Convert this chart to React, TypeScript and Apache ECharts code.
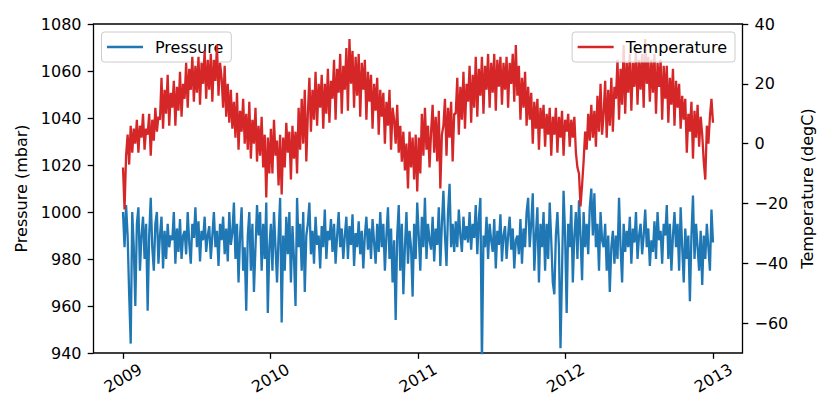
import React, { useEffect, useRef } from "react";
import * as echarts from "echarts";

// Sampled readings (8 per month), 2009-01-01 .. 2012-12-31
const PRESSURE_2009 = [
  1000, 985, 1003, 990, 965, 944, 1000, 985,
  960, 995, 1002, 975, 990, 998, 980, 995,
  958, 990, 1006, 985, 975, 995, 1000, 978,
  990, 998, 976, 992, 980, 995, 985, 990,
  988, 1000, 978, 993, 983, 997, 980, 990,
  992, 982, 1000, 987, 978, 995, 989, 1002,
  985, 996, 979, 992, 988, 998, 983, 990,
  994, 980, 990, 1000, 985, 992, 977, 995,
  988, 998, 982, 993, 979, 1000, 986, 991,
  1004, 980, 995, 970, 990, 1002, 975, 985,
  958, 990, 1000, 975, 995, 966, 985, 1003,
  990, 1000, 975, 995, 980, 1004, 957, 985,
];
const PRESSURE_2010 = [
  995, 975, 1000, 985, 970, 990, 1006, 953,
  990, 975, 998, 982, 1000, 970, 994, 980,
  960, 1006, 985, 995, 975, 1000, 966, 990,
  995, 1004, 982, 992, 978, 998, 986, 990,
  976, 994, 985, 1001, 980, 992, 988, 997,
  983, 995, 978, 990, 1000, 985, 993, 980,
  990, 998, 980, 994, 986, 999, 977, 991,
  985, 996, 982, 992, 976, 990, 998, 984,
  993, 980, 997, 987, 978, 995, 983, 1000,
  985, 995, 975, 990, 1002, 980, 993, 970,
  988, 954, 990, 1003, 975, 995, 965, 985,
  1000, 978, 992, 985, 964, 995, 980, 1004,
];
const PRESSURE_2011 = [
  990, 975, 998, 985, 1006, 980, 995, 988,
  984, 998, 979, 993, 986, 1002, 977, 995,
  1009, 990, 977, 1000, 1012, 985, 995, 983,
  996, 985, 1001, 990, 983, 998, 988, 994,
  987, 1000, 984, 995, 989, 1003, 982, 997,
  1006, 935, 990, 985, 998, 980, 995, 988,
  983, 997, 976, 992, 986, 999, 979, 990,
  994, 980, 990, 998, 984, 993, 976, 988,
  990, 982, 997, 978, 993, 985, 1000, 1006,
  985, 995, 1008, 975, 990, 1002, 970, 995,
  985, 1000, 975, 995, 980, 1004, 988, 970,
  965, 990, 1000, 985, 942, 975, 1009, 990,
];
const PRESSURE_2012 = [
  957, 995, 985, 1003, 970, 990, 1000, 980,
  1005, 990, 971, 1000, 985, 995, 982, 1002,
  1010, 990, 1008, 985, 995, 975, 1000, 988,
  985, 995, 975, 990, 966, 985, 992, 978,
  990, 980, 1006, 985, 970, 995, 983, 992,
  985, 998, 978, 993, 987, 1000, 980, 990,
  995, 982, 990, 1001, 985, 993, 977, 988,
  983, 996, 980, 1000, 988, 992, 978, 995,
  990, 1003, 980, 995, 975, 990, 1000, 985,
  995, 975, 1002, 985, 970, 993, 980, 990,
  962, 990, 1007, 980, 995, 985, 975, 992,
  969, 990, 980, 995, 985, 975, 1001, 987,
];

const TEMP_2009 = [
  -8, -22, -4, 3, -7, 6, -3, 5,
  0, 8, -3, 6, 2, 10, -2, 5,
  3, 10, -4, 8, 1, 12, 4, 9,
  8, 22, 5, 18, 10, 23, 6, 17,
  12, 21, 6, 19, 11, 24, 9, 20,
  15, 27, 12, 25, 18, 29, 14, 26,
  17, 29, 13, 27, 20, 31, 15, 28,
  18, 30, 14, 28, 21, 33, 16, 27,
  22, 12, 26, 9, 20, 7, 18, 5,
  14, 2, 17, -2, 11, 4, 15, 0,
  10, -2, 14, -5, 8, 0, 12, -6,
  6, -4, 9, -8, 3, -18, 2, -10,
];
const TEMP_2010 = [
  5, -10, 8, -4, 1, -14, 3, -17,
  2, -8, 7, -3, 4, -12, 6, -5,
  4, -10, 12, -2, 15, 0, 18, -6,
  10, 22, 4, 18, 8, 24, 6, 20,
  12, 23, 5, 20, 10, 25, 7, 21,
  15, 28, 8, 25, 17, 30, 10, 26,
  18, 32, 11, 35, 20, 31, 12, 29,
  16, 30, 9, 27, 18, 28, 8, 24,
  14, 23, 5, 20, 11, 22, 3, 18,
  9, 17, 0, 14, 6, 18, -2, 12,
  8, 0, 13, -3, 6, -6, 4, -9,
  0, -15, 4, -8, 2, -12, 3, -16,
];
const TEMP_2011 = [
  2, -10, 10, -4, 12, -2, 6, -8,
  4, 13, -3, 9, -6, 11, -15, 3,
  6, 15, -4, 12, 2, 14, -6, 10,
  10, 22, 3, 19, 8, 24, 5, 20,
  14, 26, 7, 23, 12, 29, 9, 25,
  16, 29, 10, 26, 18, 30, 12, 27,
  17, 30, 11, 28, 19, 29, 13, 27,
  18, 29, 12, 27, 20, 30, 14, 33,
  16, 26, 8, 22, 12, 24, 6, 19,
  8, 17, 0, 14, 5, 15, -2, 12,
  5, 13, -1, 10, 3, 12, -4, 9,
  3, 12, -3, 9, 2, 11, -4, 8,
];
const TEMP_2012 = [
  4, 10, -1, 8, 2, 9, -3, -8,
  -10, -21, -14, -6, 4, -2, 10, 1,
  13, 2, 11, -1, 16, 4, 20, 3,
  10, 21, 2, 18, 6, 22, 4, 19,
  15, 28, 8, 25, 13, 33, 10, 27,
  17, 30, 11, 27, 19, 31, 13, 28,
  18, 30, 12, 35, 20, 29, 14, 28,
  17, 30, 10, 27, 19, 28, 8, 26,
  15, 26, 7, 22, 13, 25, 6, 21,
  12, 20, 5, 16, 8, 15, -3, 10,
  4, 14, -5, 11, 2, 13, -1, 9,
  3, -6, -12, 6, 0, 9, 15, 7,
];

const YEAR_LABELS = ["2009", "2010", "2011", "2012", "2013"];
const PRESSURE_TICKS = [940, 960, 980, 1000, 1020, 1040, 1060, 1080];
const TEMP_TICKS = [-60, -40, -20, 0, 20, 40];

const DAY = 86400000;
const START = Date.UTC(2009, 0, 1);
const END = Date.UTC(2012, 11, 31);

function toPairs(vals: number[]) {
  const step = (END - START) / (vals.length - 1);
  return vals.map((v, i) => [START + i * step, v]);
}

const FONT = "DejaVu Sans";

export default function App() {
  const ref = useRef<HTMLDivElement>(null);
  useEffect(() => {
    if (!ref.current) return;
    const chart = echarts.init(ref.current, undefined, { renderer: "svg" });
    const pressure = [...PRESSURE_2009, ...PRESSURE_2010, ...PRESSURE_2011, ...PRESSURE_2012];
    const temp = [...TEMP_2009, ...TEMP_2010, ...TEMP_2011, ...TEMP_2012];
    const yearTicks = YEAR_LABELS.map((y) => Date.UTC(Number(y), 0, 1));
    const tickStyle = { show: true, length: 5.8, lineStyle: { color: "#000", width: 1.3 } };
    const labelStyle = { color: "#000", fontSize: 16, fontFamily: FONT };
    const legendBase = {
      top: 32,
      orient: "horizontal",
      icon: "rect",
      itemWidth: 36,
      itemHeight: 2.4,
      padding: [6, 8, 6, 5.5],
      backgroundColor: "rgba(255,255,255,0.8)",
      borderColor: "#cccccc",
      borderWidth: 1,
      borderRadius: 3,
      textStyle: { color: "#000", fontSize: 16, fontFamily: FONT, lineHeight: 18, padding: [0, 0, 0, 7] },
      selectedMode: false,
    };
    chart.setOption({
      animation: false,
      textStyle: { fontFamily: FONT },
      grid: {
        left: 93.5,
        right: 87.5,
        top: 24,
        bottom: 62,
        show: true,
        borderColor: "#000",
        borderWidth: 1.3,
        backgroundColor: "transparent",
        containLabel: false,
      },
      legend: [
        { ...legendBase, left: 101.5, data: ["Pressure"], z: 1 },
        { ...legendBase, right: 95, data: ["Temperature"], z: 20 },
      ],
      xAxis: {
        type: "value",
        min: START - 73 * DAY,
        max: END + 73 * DAY,
        axisLine: { show: false, onZero: false },
        axisTick: { ...tickStyle, customValues: yearTicks },
        splitLine: { show: false },
        axisLabel: { show: false },
      },
      yAxis: [
        {
          type: "value",
          min: 940,
          max: 1080,
          interval: 20,
          name: "Pressure (mbar)",
          nameLocation: "middle",
          nameGap: 47,
          nameRotate: 90,
          nameTextStyle: { ...labelStyle },
          axisLine: { show: false, onZero: false },
          axisTick: { ...tickStyle, customValues: PRESSURE_TICKS },
          splitLine: { show: false },
          axisLabel: {
            ...labelStyle,
            margin: 12,
            customValues: PRESSURE_TICKS,
            formatter: (v: number) => String(v),
          },
        },
        {
          type: "value",
          position: "right",
          min: -70,
          max: 40,
          name: "Temperature (degC)",
          nameLocation: "middle",
          nameGap: 52,
          nameRotate: 90,
          nameTextStyle: { ...labelStyle },
          axisLine: { show: false, onZero: false },
          axisTick: { ...tickStyle, customValues: TEMP_TICKS },
          splitLine: { show: false },
          axisLabel: {
            ...labelStyle,
            margin: 12,
            customValues: TEMP_TICKS,
            formatter: (v: number) => String(v).replace("-", "\u2212"),
          },
        },
      ],
      series: [
        {
          name: "Pressure",
          type: "line",
          yAxisIndex: 0,
          data: toPairs(pressure),
          showSymbol: false,
          symbol: "none",
          clip: true,
          color: "#1f77b4",
          lineStyle: { color: "#1f77b4", width: 2.3 },
          z: 2,
        },
        {
          name: "Temperature",
          type: "line",
          yAxisIndex: 1,
          data: toPairs(temp),
          showSymbol: false,
          symbol: "none",
          clip: true,
          color: "#d62728",
          lineStyle: { color: "#d62728", width: 2.3 },
          z: 3,
        },
      ],
    });
    // Rotated, centred year labels placed through the x axis scale
    const bottomY = chart.convertToPixel({ yAxisIndex: 0 }, 940) as number;
    chart.setOption({
      graphic: yearTicks.map((t, i) => ({
        type: "text",
        x: chart.convertToPixel({ xAxisIndex: 0 }, t) as number,
        y: bottomY + 25,
        rotation: (30 * Math.PI) / 180,
        style: {
          text: YEAR_LABELS[i],
          fill: "#000",
          font: `16px "${FONT}"`,
          align: "center",
          verticalAlign: "middle",
        },
      })),
    });
    return () => chart.dispose();
  }, []);
  return (
    <div
      ref={ref}
      style={{ position: "absolute", left: 0, top: 0, width: 830, height: 415, background: "#fff" }}
    />
  );
}
